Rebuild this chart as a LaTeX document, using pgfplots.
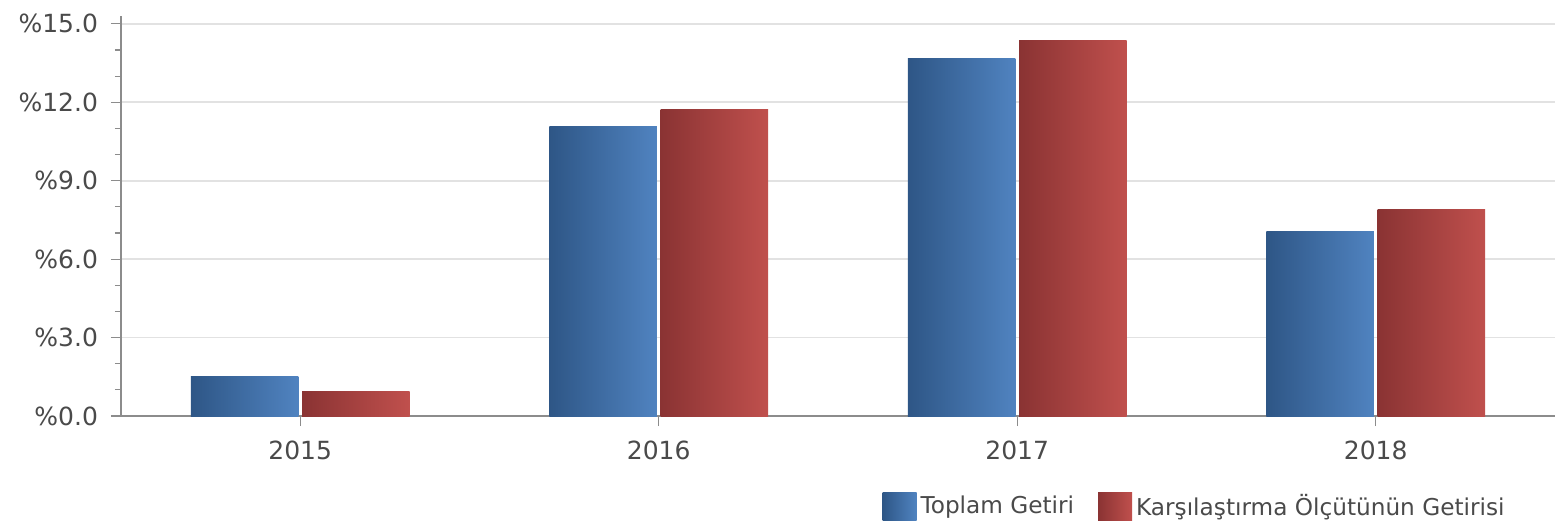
\documentclass[border=0pt]{standalone}
\usepackage{pgfplots}
\pgfplotsset{compat=1.18}
\usepackage{fontspec}
\setmainfont{DejaVu Sans}
\definecolor{txt}{HTML}{4A4A4A}
\definecolor{axl}{HTML}{8C8C8C}
\definecolor{grd}{HTML}{E2E2E2}
\definecolor{bL}{HTML}{2E5686}
\definecolor{bR}{HTML}{5083C0}
\definecolor{rL}{HTML}{8A3333}
\definecolor{rR}{HTML}{C0504D}
\begin{document}
\begin{tikzpicture}[x=1pt,y=1pt]
\begin{axis}[
  name=ax,
  scale only axis,
  width=717pt, height=200pt,
  xmin=-0.5, xmax=3.5,
  ymin=0, ymax=15.3,
  axis x line*=bottom, axis y line*=left,
  axis line style={axl, line width=0.8pt, -},
  xtick={0,1,2,3},
  xticklabels={2015,2016,2017,2018},
  ytick={0,3,6,9,12,15},
  yticklabels={\%0.0,\%3.0,\%6.0,\%9.0,\%12.0,\%15.0},
  minor y tick num=2,
  tick align=outside,
  major tick length=5pt,
  minor tick length=3pt,
  tick style={axl, line width=0.6pt},
  ymajorgrids,
  major grid style={grd, line width=0.8pt},
  ticklabel style={font=\fontsize{12.5}{14}\selectfont, text=txt},
  xticklabel style={yshift=-4pt},
  yticklabel style={xshift=-3pt},
  legend style={draw=none, fill=none, at={(1,0)}, anchor=north east,
    xshift=-20pt, yshift=-35pt, legend columns=2,
    font=\fontsize{11.6}{13}\selectfont, text=txt,
    /tikz/every even column/.append style={column sep=10pt}},
  legend image code/.code={\path[#1] (0pt,-6.8pt) rectangle (17pt,6.8pt);},
  clip=false,
  blue bar/.style={ybar, bar width=0.30, bar shift=-0.155, draw=none, left color=bL, right color=bR},
  red bar/.style={ybar, bar width=0.30, bar shift=0.155, draw=none, left color=rL, right color=rR},
]
\addplot[blue bar] coordinates {(0,1.53)};
\addlegendentry{Toplam Getiri}
\addplot[red bar] coordinates {(0,0.92)};
\addlegendentry{Karşılaştırma Ölçütünün Getirisi}
\addplot[blue bar, forget plot] coordinates {(1,11.06)};
\addplot[blue bar, forget plot] coordinates {(2,13.66)};
\addplot[blue bar, forget plot] coordinates {(3,7.07)};
\addplot[red bar, forget plot] coordinates {(1,11.74)};
\addplot[red bar, forget plot] coordinates {(2,14.35)};
\addplot[red bar, forget plot] coordinates {(3,7.91)};
\end{axis}
\pgfresetboundingbox
\path (ax.south west) ++(-60.5pt,208pt) coordinate (tl);
\path (ax.south west) ++(717pt,-54.5pt) coordinate (br);
\path[use as bounding box] (tl) rectangle (br);
\end{tikzpicture}
\end{document}
